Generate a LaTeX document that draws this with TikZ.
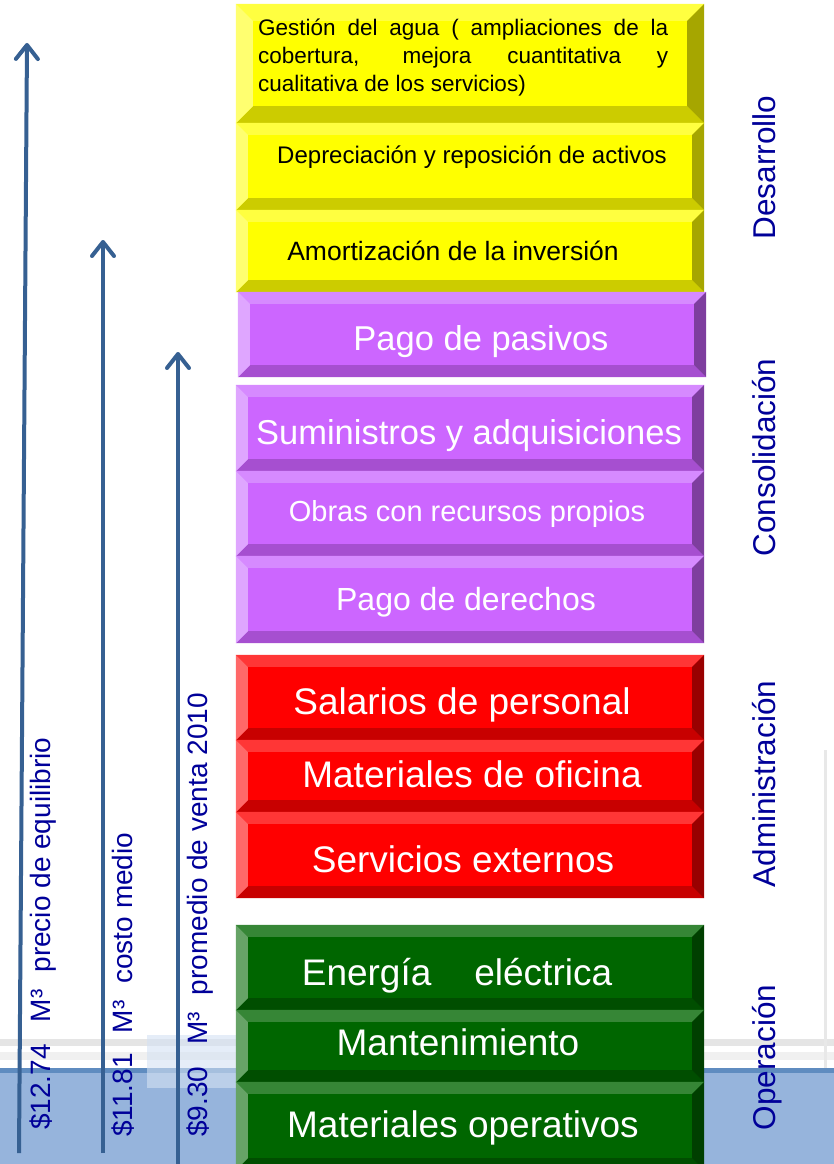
\documentclass[tikz,border=0pt]{standalone}
\usepackage{fontspec}
\setmainfont{Liberation Sans}
\usetikzlibrary{arrows.meta,calc}
\definecolor{yel}{HTML}{FFFF00}
\definecolor{yelT}{HTML}{FFFF40}
\definecolor{yelL}{HTML}{FFFF70}
\definecolor{yelB}{HTML}{CCCC00}
\definecolor{yelR}{HTML}{A6A600}
\definecolor{pur}{HTML}{CC66FF}
\definecolor{purT}{HTML}{D68AFF}
\definecolor{purL}{HTML}{DFA6FF}
\definecolor{purB}{HTML}{A64FD0}
\definecolor{purR}{HTML}{7E3E9E}
\definecolor{roj}{HTML}{FF0000}
\definecolor{rojT}{HTML}{FF3636}
\definecolor{rojL}{HTML}{FF6868}
\definecolor{rojB}{HTML}{C80000}
\definecolor{rojR}{HTML}{990000}
\definecolor{ver}{HTML}{006600}
\definecolor{verT}{HTML}{368636}
\definecolor{verL}{HTML}{66A366}
\definecolor{verB}{HTML}{004E00}
\definecolor{verR}{HTML}{003F00}
\definecolor{azulflecha}{HTML}{366092}
\definecolor{azultexto}{HTML}{000099}
\definecolor{fondo}{HTML}{96B4DC}
\definecolor{fondoclaro}{HTML}{D4E1F3}
\definecolor{linea}{HTML}{5F8CC0}
% bisel de una caja: nodo, color, ancho
\newcommand{\bisel}[3]{%
  \fill[#2T] (#1.north west) -- (#1.north east) -- ([shift={(-#3pt,-#3pt)}]#1.north east) -- ([shift={(#3pt,-#3pt)}]#1.north west) -- cycle;
  \fill[#2B] (#1.south west) -- (#1.south east) -- ([shift={(-#3pt,#3pt)}]#1.south east) -- ([shift={(#3pt,#3pt)}]#1.south west) -- cycle;
  \fill[#2L] (#1.north west) -- (#1.south west) -- ([shift={(#3pt,#3pt)}]#1.south west) -- ([shift={(#3pt,-#3pt)}]#1.north west) -- cycle;
  \fill[#2R] (#1.north east) -- (#1.south east) -- ([shift={(-#3pt,#3pt)}]#1.south east) -- ([shift={(-#3pt,-#3pt)}]#1.north east) -- cycle;
}

\begin{document}
\begin{tikzpicture}[x=1pt, y=-1pt,
    caja/.style = {fill=#1, draw=none, inner sep=0pt, minimum width=468pt},
    rotulo/.style = {inner sep=0pt, font=\fontsize{#1}{#1}\selectfont},
    flecha/.style = {draw=azulflecha, line width=4pt, -{Straight Barb[length=14pt,width=22pt,line cap=round,line join=round]}},
    eje/.style = {text=azultexto, rotate=90, anchor=base west, inner sep=0pt, font=\fontsize{28}{30}\selectfont},
    fase/.style = {text=azultexto, rotate=90, anchor=base, inner sep=0pt, font=\fontsize{31.5}{33}\selectfont}]
    \useasboundingbox (0,0) rectangle (834,1164);

    \fill[gray!20] (0,1039) rectangle (834,1046);
    \fill[gray!12] (0,1052) rectangle (834,1060);
    \fill[linea] (0,1068) rectangle (834,1073);
    \fill[fondo] (0,1073) rectangle (834,1164);
    \fill[fondoclaro, opacity=0.6] (147,1035) rectangle (236,1088);
    \draw[gray!18, line width=3pt] (825,750) -- (825,1068);

    \node[caja=yel, minimum height=119pt] (d1) at (470,63.5) {};
    \node[caja=yel, minimum height=87pt] (d2) at (470,166.5) {};
    \node[caja=yel, minimum height=82pt] (d3) at (470,251) {};
    \bisel{d1}{yel}{17}
    \bisel{d2}{yel}{12}
    \bisel{d3}{yel}{12}

    \node[caja=pur, minimum height=85pt] (c1) at (472,334.5) {};
    \node[caja=pur, minimum height=86pt] (c2) at (470,428) {};
    \node[caja=pur, minimum height=85pt] (c3) at (470,513.5) {};
    \node[caja=pur, minimum height=87pt] (c4) at (470,599.5) {};
    \bisel{c1}{pur}{12}
    \bisel{c2}{pur}{12}
    \bisel{c3}{pur}{12}
    \bisel{c4}{pur}{12}

    \node[caja=roj, minimum height=85pt] (a1) at (470,697.5) {};
    \node[caja=roj, minimum height=72pt] (a2) at (470,776) {};
    \node[caja=roj, minimum height=86pt] (a3) at (470,855) {};
    \bisel{a1}{roj}{12}
    \bisel{a2}{roj}{12}
    \bisel{a3}{roj}{12}

    \node[caja=ver, minimum height=85pt] (o1) at (470,967.5) {};
    \node[caja=ver, minimum height=72pt] (o2) at (470,1046) {};
    \node[caja=ver, minimum height=88pt] (o3) at (470,1126) {};
    \bisel{o1}{ver}{12}
    \bisel{o2}{ver}{12}
    \bisel{o3}{ver}{12}

    \node[anchor=base west, inner sep=0pt] (t1) at (258,36) {\parbox[t]{410pt}{\fontsize{22.5}{27.5}\selectfont
      \makebox[410pt][s]{Gestión del agua ( ampliaciones de la}\\
      \makebox[410pt][s]{cobertura, mejora cuantitativa y}\\
      cualitativa de los servicios)}};
    \node[rotulo=24] (t2) at (472,157) {Depreciación y reposición de activos};
    \node[rotulo=26.5] (t3) at (453,251) {Amortización de la inversión};

    \node[rotulo=34.5, text=white] (t4) at (481,342) {Pago de pasivos};
    \node[rotulo=34.5, text=white] (t5) at (469,436) {Suministros y adquisiciones};
    \node[rotulo=29, text=white] (t6) at (467,514) {Obras con recursos propios};
    \node[rotulo=32, text=white] (t7) at (466,602) {Pago de derechos};

    \node[rotulo=37, text=white] (t8) at (462,705) {Salarios de personal};
    \node[rotulo=37, text=white] (t9) at (472,774) {Materiales de oficina};
    \node[rotulo=37, text=white] (t10) at (463,859) {Servicios externos};

    \node[rotulo=37, text=white] (t11) at (457,976) {Energía\hspace{43pt}eléctrica};
    \node[rotulo=37, text=white] (t12) at (458,1042) {Mantenimiento};
    \node[rotulo=37, text=white] (t13) at (463,1128) {Materiales operativos};

    \node[fase] (f1) at (775,167.5) {Desarrollo};
    \node[fase] (f2) at (775,457.5) {Consolidación};
    \node[fase] (f3) at (775,784) {Administración};
    \node[fase] (f4) at (775,1057.5) {Operación};

    \node[eje] (e1) at (50,1130) {\$12.74\hspace{22pt}M³\hspace{17pt}precio de equilibrio};
    \node[eje] (e2) at (132,1137) {\$11.81\hspace{20pt}M³\hspace{17pt}costo medio};
    \node[eje] (e3) at (207,1137) {\$9.30\hspace{22pt}M³\hspace{17pt}promedio de venta 2010};

    \coordinate (p1) at (19,1153);
    \coordinate (q1) at (27,43);
    \coordinate (p2) at (103,1153);
    \coordinate (q2) at (103,240);
    \coordinate (p3) at (178,1164);
    \coordinate (q3) at (178,352);
    \draw[flecha] (p1) -- (q1);
    \draw[flecha] (p2) -- (q2);
    \draw[flecha] (p3) -- (q3);
\end{tikzpicture}
\end{document}
